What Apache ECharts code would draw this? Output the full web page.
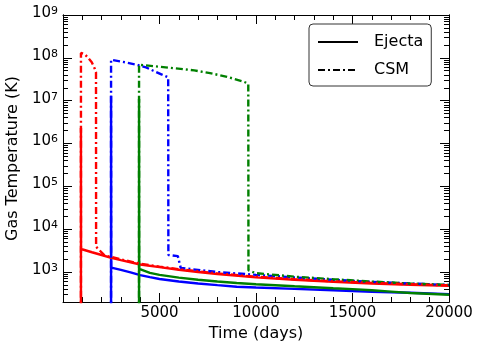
<!DOCTYPE html>
<html>
<head>
<meta charset="utf-8">
<script src="https://cdn.jsdelivr.net/npm/echarts@6/dist/echarts.min.js"></script>
<style>
    html, body { margin: 0; padding: 0; background: #fff; }
    #chart { width: 485px; height: 351px; }
</style>
</head>
<body>
<div id="chart"></div>
<script>
    // [time (days), gas temperature (K)]
    var redEjecta = [[930, 10], [930, 2.3e6], [935, 3450], [1500, 2900], [2000, 2500], [2500, 2150], [3000, 1900],
        [4000, 1500], [5000, 1300], [6000, 1130], [7000, 1000], [8000, 900], [10000, 750], [12000, 660],
        [14000, 590], [16000, 540], [18000, 505], [20000, 475]];
    var blueEjecta = [[2490, 10], [2490, 1.3e7], [2500, 1270], [3000, 1120], [3500, 980], [4000, 850], [4500, 760],
        [5000, 690], [6000, 600], [7000, 540], [8000, 495], [9000, 455], [10000, 435], [12000, 405],
        [14000, 375], [15000, 360], [16000, 345], [18000, 328], [20000, 305]];
    var greenEjecta = [[3940, 10], [3940, 1.1e7], [3950, 1180], [4500, 960], [5000, 860], [6000, 740], [7000, 660],
        [8000, 600], [9000, 555], [10000, 520], [12000, 465], [14000, 420], [15000, 400], [16000, 375],
        [17000, 350], [18000, 325], [20000, 295]];
    var redCSM = [[930, 10], [930, 1.3e8], [1140, 1.2e8], [1300, 1.0e8], [1490, 7.9e7], [1650, 5.5e7], [1710, 4.6e7],
        [1715, 3900], [2150, 2450], [2500, 2250], [3000, 1980], [4000, 1560], [5000, 1340], [6000, 1170],
        [8000, 930], [10000, 780], [12000, 680], [14000, 610], [16000, 560], [18000, 520], [20000, 490]];
    var blueCSM = [[2490, 10], [2490, 9e7], [3210, 7.9e7], [3820, 6.9e7], [4300, 6.0e7], [4680, 5.0e7], [5100, 4.1e7],
        [5450, 3.5e7], [5460, 2500], [5950, 2350], [6100, 1250], [8000, 1000], [10000, 860], [12000, 750],
        [14000, 660], [16000, 590], [18000, 540], [20000, 500]];
    var greenCSM = [[3940, 10], [3940, 6.9e7], [4680, 6.4e7], [5800, 5.7e7], [6800, 5.1e7], [7620, 4.4e7],
        [8500, 3.6e7], [9340, 2.8e7], [9600, 2.5e7], [9610, 1100], [10000, 940], [12000, 780], [14000, 680],
        [16000, 600], [18000, 540], [20000, 500]];

    var xTicks = [0, 5000, 10000, 15000, 20000];
    var yMajor = [1e3, 1e4, 1e5, 1e6, 1e7, 1e8, 1e9];
    var yMinor = [];
    for (var d = 100; d < 1e9; d *= 10) {
        for (var k = 2; k <= 9; k++) {
            if (k * d > 200) yMinor.push(k * d);
        }
    }

    var font = 'DejaVu Sans';
    var dashDot = [7, 3, 2, 3];
    var chart = echarts.init(document.getElementById('chart'), null, { renderer: 'canvas' });

    function line(name, data, color, dashed) {
        return {
            name: name,
            type: 'line',
            data: data,
            symbol: 'none',
            clip: true,
            xAxisIndex: 0,
            yAxisIndex: 0,
            lineStyle: { color: color, width: 2.4, type: dashed ? dashDot : 'solid' },
            itemStyle: { color: color },
            emphasis: { disabled: true }
        };
    }

    function tickStyle() {
        return { color: '#000', width: 1 };
    }

    function yAxis(pos, ticks, len, main) {
        return {
            type: 'log',
            position: pos,
            min: 200,
            max: 1e9,
            logBase: 10,
            name: main ? 'Gas Temperature (K)' : '',
            nameLocation: 'middle',
            nameGap: 38,
            nameTextStyle: { fontFamily: font, fontSize: 16, color: '#000' },
            axisLine: { show: true, onZero: false, lineStyle: { color: '#000', width: 1 } },
            axisTick: { show: true, inside: true, length: len, lineStyle: tickStyle(), customValues: ticks },
            axisLabel: {
                show: main,
                customValues: yMajor,
                margin: 5,
                padding: [0, 0, 4, 0],
                formatter: function (v) {
                    return '{b|10}{s|' + Math.round(Math.log10(v)) + '}';
                },
                rich: {
                    b: { fontFamily: font, fontSize: 15, lineHeight: 15, color: '#000', verticalAlign: 'bottom' },
                    s: { fontFamily: font, fontSize: 11, lineHeight: 11, color: '#000', verticalAlign: 'top', padding: [0, 0, 8, 0] }
                }
            },
            splitLine: { show: false },
            minorTick: { show: false }
        };
    }

    function xAxis(pos, main) {
        return {
            type: 'value',
            position: pos,
            min: xTicks[0],
            max: xTicks[xTicks.length - 1],
            interval: 5000,
            name: main ? 'Time (days)' : '',
            nameLocation: 'middle',
            nameGap: 24,
            nameTextStyle: { fontFamily: font, fontSize: 16, color: '#000' },
            axisLine: { show: true, onZero: false, lineStyle: { color: '#000', width: 1 } },
            axisTick: { show: true, inside: true, length: 9, lineStyle: tickStyle() },
            minorTick: { show: true, splitNumber: 5, length: 5, lineStyle: tickStyle() },
            axisLabel: {
                show: main,
                margin: 4,
                fontFamily: font,
                fontSize: 15,
                color: '#000',
                formatter: function (v) { return v === 0 ? '' : String(v); }
            },
            splitLine: { show: false }
        };
    }

    chart.setOption({
        animation: false,
        backgroundColor: '#fff',
        grid: { left: 63, right: 36, top: 15, bottom: 49, outerBoundsMode: 'none' },
        legend: {
            data: ['Ejecta', 'CSM'],
            orient: 'vertical',
            left: 309,
            top: 24,
            padding: [10, 8, 8, 8],
            itemGap: 12,
            itemWidth: 40,
            itemHeight: 14,
            backgroundColor: '#fff',
            borderColor: '#333',
            borderWidth: 1,
            borderRadius: 4,
            itemStyle: { opacity: 0 },
            textStyle: { fontFamily: font, fontSize: 16, color: '#000', padding: [0, 0, 0, 11] },
            selectedMode: false
        },
        xAxis: [xAxis('bottom', true), xAxis('top', false)],
        yAxis: [
            yAxis('left', yMajor, 9, true),
            yAxis('right', yMajor, 9, false),
            yAxis('left', yMinor, 5, false),
            yAxis('right', yMinor, 5, false)
        ],
        series: [
            line('Blue ejecta', blueEjecta, '#0000ff', false),
            line('Green ejecta', greenEjecta, '#008000', false),
            line('Red ejecta', redEjecta, '#ff0000', false),
            line('Blue CSM', blueCSM, '#0000ff', true),
            line('Green CSM', greenCSM, '#008000', true),
            line('Red CSM', redCSM, '#ff0000', true),
            {
                name: 'Ejecta', type: 'line', data: [], symbol: 'none',
                lineStyle: { color: '#000', width: 1.5, type: 'solid' }, itemStyle: { color: '#000' }
            },
            {
                name: 'CSM', type: 'line', data: [], symbol: 'none',
                lineStyle: { color: '#000', width: 1.5, type: dashDot }, itemStyle: { color: '#000' }
            }
        ]
    });
</script>
</body>
</html>
